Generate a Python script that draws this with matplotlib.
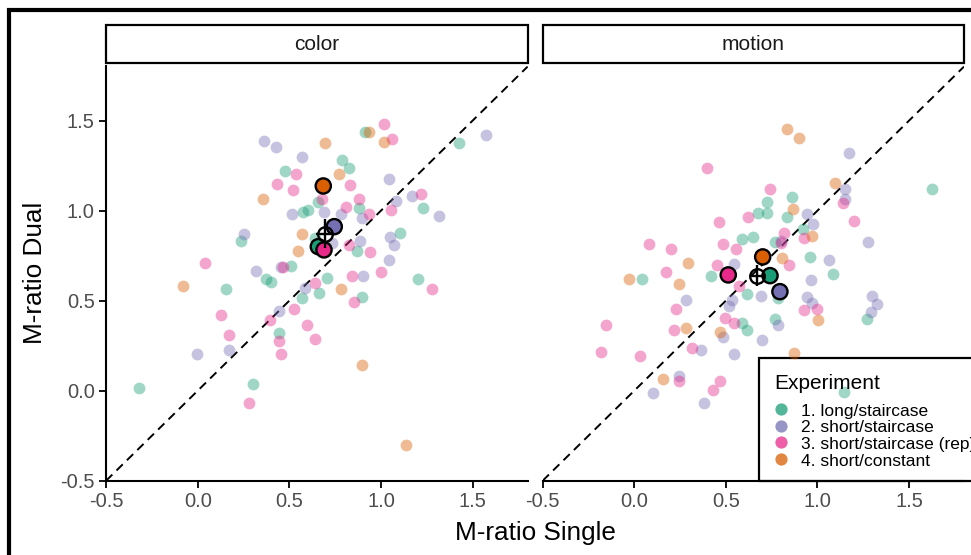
import matplotlib
matplotlib.use("Agg")
import matplotlib.pyplot as plt
from matplotlib.patches import Rectangle
from matplotlib.lines import Line2D

plt.rcParams['font.family'] = ['Liberation Sans', 'DejaVu Sans']
plt.rcParams['axes.unicode_minus'] = False

# experiment groups and Dark2 colours
groups = ['1. long/staircase', '2. short/staircase',
          '3. short/staircase (rep)', '4. short/constant']
colors = ['#1B9E77', '#7570B3', '#E7298A', '#D95F02']

# ---- color task: single vs dual M-ratio per participant ----
color_long_x = [0.478, 0.573, 0.604, 0.238, 0.507, 0.373, 0.402, 0.154, 0.567, 0.913,
                1.424, 0.789, 0.823, 0.659, 0.878, 1.229, 0.867, 1.105, 0.707, 1.200,
                0.662, 0.898, 0.442, -0.320, 0.302, 0.640]
color_long_y = [1.220, 0.994, 1.004, 0.833, 0.694, 0.619, 0.602, 0.563, 0.516, 1.435,
                1.374, 1.282, 1.235, 1.050, 1.017, 1.013, 0.778, 0.874, 0.628, 0.621,
                0.541, 0.522, 0.322, 0.017, 0.039, 0.850]
color_short_x = [0.363, 0.426, 0.567, 0.513, 0.253, 0.318, 0.586, 1.573, 1.046, 1.082,
                 1.167, 0.691, 0.898, 0.780, 1.316, 0.733, 0.884, 1.049, 1.069, 1.043,
                 0.904, 0.445, 0.172, -0.005, 0.455]
color_short_y = [1.385, 1.352, 1.300, 0.982, 0.871, 0.667, 0.572, 1.422, 1.176, 1.056,
                 1.082, 0.994, 0.958, 0.980, 0.972, 0.820, 0.833, 0.856, 0.811, 0.728,
                 0.637, 0.443, 0.226, 0.202, 0.685]
color_rep_x = [0.538, 0.434, 0.518, 0.042, 0.463, 1.016, 1.058, 0.831, 0.880, 0.676,
               1.216, 0.807, 0.933, 1.057, 0.827, 0.940, 1.000, 0.844, 1.280, 0.640,
               0.855, 0.525, 0.129, 0.394, 0.598, 0.640, 0.169, 0.442, 0.454, 0.278]
color_rep_y = [1.206, 1.147, 1.115, 0.709, 0.687, 1.482, 1.398, 1.144, 1.063, 1.063,
               1.093, 1.019, 0.982, 1.006, 0.811, 0.772, 0.658, 0.639, 0.567, 0.600,
               0.495, 0.454, 0.422, 0.393, 0.365, 0.287, 0.309, 0.276, 0.202, -0.070]
color_const_x = [0.358, 0.567, 0.545, -0.078, 0.937, 1.018, 0.695, 0.773, 0.780, 0.895, 1.138]
color_const_y = [1.063, 0.869, 0.778, 0.582, 1.435, 1.383, 1.376, 1.202, 0.565, 0.143, -0.302]
color_mean_x = [0.658, 0.745, 0.689, 0.685]
color_mean_y = [0.800, 0.911, 0.782, 1.137]
color_all = [0.694, 0.871]
color_all_err = [0.047, 0.080]

# ---- motion task ----
motion_long_x = [0.586, 0.650, 0.417, 0.042, 0.613, 1.625, 0.859, 0.723, 0.677, 0.723,
                 0.835, 0.768, 0.922, 0.959, 1.086, 0.783, 1.272, 0.768, 0.586, 0.613, 1.145]
motion_long_y = [0.844, 0.856, 0.639, 0.619, 0.535, 1.122, 1.078, 1.050, 0.986, 0.986,
                 0.963, 0.826, 0.898, 0.743, 0.650, 0.517, 0.398, 0.397, 0.374, 0.337, -0.009]
motion_short_x = [0.546, 0.280, 0.532, 1.172, 1.150, 1.150, 1.274, 0.944, 0.974, 1.063,
                  0.965, 0.692, 0.941, 0.972, 1.296, 1.326, 1.290, 0.783, 0.699, 0.519,
                  0.362, 0.482, 0.546, 0.246, 0.100, 0.380, 0.800]
motion_short_y = [0.702, 0.504, 0.504, 1.322, 1.119, 1.063, 0.824, 0.980, 0.924, 0.728,
                  0.613, 0.525, 0.520, 0.486, 0.527, 0.480, 0.435, 0.365, 0.282, 0.472,
                  0.226, 0.300, 0.206, 0.083, -0.011, -0.067, 0.830]
motion_rep_x = [0.398, 0.462, 0.621, 0.484, 0.555, 0.082, 0.202, 0.450, 0.173, 0.571,
                1.141, 1.198, 0.741, 0.819, 0.799, 0.928, 0.846, 0.928, 0.995, 0.228,
                -0.156, -0.183, 0.031, 0.218, 0.313, 0.497, 0.544, 0.246, 0.468, 0.430]
motion_rep_y = [1.235, 0.939, 0.965, 0.817, 0.789, 0.815, 0.786, 0.700, 0.658, 0.583,
                1.045, 0.943, 1.122, 0.878, 0.822, 0.850, 0.700, 0.448, 0.454, 0.452,
                0.367, 0.213, 0.193, 0.337, 0.239, 0.404, 0.374, 0.054, 0.054, 0.004]
motion_const_x = [0.291, -0.027, 0.246, 0.835, 0.899, 1.097, 0.868, 0.972, 0.805, 1.004,
                  0.873, 0.280, 0.468, 0.157]
motion_const_y = [0.709, 0.619, 0.594, 1.454, 1.406, 1.152, 1.009, 0.861, 0.739, 0.393,
                  0.208, 0.350, 0.328, 0.065]
motion_mean_x = [0.741, 0.795, 0.513, 0.701]
motion_mean_y = [0.639, 0.550, 0.643, 0.743]
motion_all = [0.671, 0.639]
motion_all_err = [0.040, 0.060]

ticks = [-0.5, 0.0, 0.5, 1.0, 1.5]

W, H = 971, 555
fig = plt.figure(figsize=(W / 100, H / 100), dpi=100)


def fx(px):
    return px / W


def fy(py):
    return 1 - py / H


top, bot = 65.7, 480.7
axL = fig.add_axes([fx(106.1), fy(bot), (527.6 - 106.1) / W, (bot - top) / H])
axR = fig.add_axes([fx(542.7), fy(bot), (964.0 - 542.7) / W, (bot - top) / H])

panels = [
    (axL, 'color',
     [(color_long_x, color_long_y), (color_short_x, color_short_y),
      (color_rep_x, color_rep_y), (color_const_x, color_const_y)],
     color_mean_x, color_mean_y, color_all, color_all_err, 106.1, 527.6),
    (axR, 'motion',
     [(motion_long_x, motion_long_y), (motion_short_x, motion_short_y),
      (motion_rep_x, motion_rep_y), (motion_const_x, motion_const_y)],
     motion_mean_x, motion_mean_y, motion_all, motion_all_err, 542.7, 964.0),
]

for ax, title, pts, mx, my, allm, allerr, x0, x1 in panels:
    for (xs, ys), c in zip(pts, colors):
        ax.scatter(xs, ys, s=72, color=c, alpha=0.42, linewidths=0, zorder=2)
    ax.axline((0, 0), slope=1, color='black', lw=1.4, ls=(0, (4.5, 3)), zorder=1)
    ax.scatter(mx, my, s=120, c=colors, edgecolors='black', linewidths=1.7, zorder=4)
    ax.errorbar([allm[0]], [allm[1]], xerr=[allerr[0]], yerr=[allerr[1]], fmt='o',
                mfc='none', mec='black', ms=10.5, mew=1.7, ecolor='black',
                elinewidth=1.7, capsize=0, zorder=5)
    ax.set_xlim(-0.5, 1.8)
    ax.set_ylim(-0.5, 1.805)
    ax.set_xticks(ticks)
    ax.set_xticklabels(['%.1f' % t for t in ticks])
    ax.set_yticks(ticks)
    ax.set_yticklabels(['%.1f' % t for t in ticks])
    for s in ['top', 'right']:
        ax.spines[s].set_visible(False)
    for s in ['left', 'bottom']:
        ax.spines[s].set_linewidth(1.5)
    ax.tick_params(width=1.3, length=4.7, labelsize=14.5, labelcolor='#4D4D4D',
                   pad=3.5)
    ax.set_facecolor('none')
    # facet strip
    fig.add_artist(Rectangle((fx(x0), fy(63.3)), (x1 - x0) / W, (63.3 - 25) / H,
                             transform=fig.transFigure, fill=False,
                             edgecolor='black', lw=1.6))
    fig.text(fx((x0 + x1) / 2), fy(44.2), title, ha='center', va='center',
             fontsize=15, color='#1A1A1A')

axR.spines['left'].set_visible(False)
axR.tick_params(axis='y', left=False, labelleft=False)

fig.text(fx(535), fy(540), 'M-ratio Single', ha='center', va='baseline', fontsize=18.8)
fig.text(fx(35), fy(273.2), 'M-ratio Dual', ha='center', va='center',
         rotation=90, fontsize=18.8)

# legend drawn by hand so it can hang off the right edge like the original
fig.add_artist(Rectangle((fx(759.3), fy(480.7)), 0.5, (480.7 - 358.3) / H,
                         transform=fig.transFigure, fill=False, edgecolor='black',
                         lw=1.6, zorder=0))
fig.text(fx(774), fy(389.3), 'Experiment', ha='left', va='baseline', fontsize=15)
leg_y = [409.3, 425.7, 442.3, 459.0]
for g, c, yy in zip(groups, colors, leg_y):
    fig.add_artist(Line2D([fx(780.7)], [fy(yy)], marker='o', ms=8.8, color=c,
                          alpha=0.75, mew=0, transform=fig.transFigure))
    fig.text(fx(800.7), fy(yy + 6.5), g, ha='left', va='baseline', fontsize=12.5)

# outer frame, cut off on the right and bottom
fig.add_artist(Rectangle((fx(9), -0.2), 1.2, fy(10.3) + 0.2, transform=fig.transFigure,
                         fill=False, edgecolor='black', lw=3.0))

fig.savefig('out.png', dpi=100)
